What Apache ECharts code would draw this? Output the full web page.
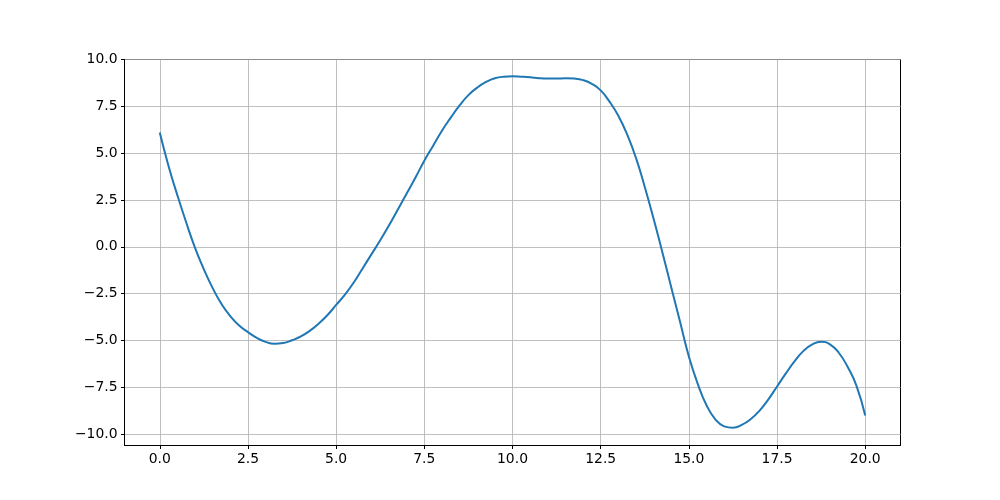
<!DOCTYPE html>
<html>
<head>
<meta charset="utf-8">
<script src="https://cdn.jsdelivr.net/npm/echarts@6/dist/echarts.min.js"></script>
<style>
html,body{margin:0;padding:0;background:#fff;}
#chart{width:1000px;height:500px;}
</style>
</head>
<body>
<div id="chart"></div>
<script>
const xValues = [0,0.25,0.5,0.75,1,1.25,1.5,1.75,2,2.25,2.5,2.75,3,3.25,3.5,3.75,4,4.25,4.5,4.75,5,5.25,5.5,5.75,6,6.25,6.5,6.75,7,7.25,7.5,7.75,8,8.25,8.5,8.75,9,9.25,9.5,9.75,10,10.25,10.5,10.75,11,11.25,11.5,11.75,12,12.25,12.5,12.75,13,13.25,13.5,13.75,14,14.25,14.5,14.75,15,15.25,15.5,15.75,16,16.25,16.5,16.75,17,17.25,17.5,17.75,18,18.25,18.5,18.75,19,19.25,19.5,19.75,20];
const yValues = [6.1,4.3,2.75,1.3,-0.05,-1.2,-2.2,-3.05,-3.7,-4.2,-4.55,-4.85,-5.07,-5.17,-5.13,-4.98,-4.78,-4.48,-4.1,-3.65,-3.1,-2.55,-1.9,-1.15,-0.4,0.35,1.15,2.0,2.85,3.7,4.6,5.4,6.2,6.9,7.55,8.1,8.5,8.8,9.0,9.08,9.1,9.08,9.05,9.0,8.98,8.98,9.0,8.98,8.9,8.7,8.35,7.75,7.0,6.0,4.75,3.2,1.5,-0.3,-2.15,-4.0,-5.85,-7.3,-8.45,-9.2,-9.58,-9.65,-9.5,-9.2,-8.75,-8.15,-7.45,-6.75,-6.1,-5.55,-5.2,-5.06,-5.2,-5.65,-6.4,-7.4,-9.0];
const xTicks = [0,2.5,5,7.5,10,12.5,15,17.5,20];
const yTicks = [-10,-7.5,-5,-2.5,0,2.5,5,7.5,10];

const data = xValues.map((x, i) => [x, yValues[i]]);
const fmt = v => (v < 0 ? '\u2212' : '') + Math.abs(v).toFixed(1);
const font = 'DejaVu Sans';

const chart = echarts.init(document.getElementById('chart'), null, {renderer: 'canvas'});
chart.setOption({
  animation: false,
  backgroundColor: '#fff',
  grid: {left: 124.5, right: 99.5, top: 59.5, bottom: 54.5, show: true, borderColor: '#000', borderWidth: 1, backgroundColor: 'transparent'},
  xAxis: {
    type: 'value', min: -1, max: 21,
    axisLine: {show: true, onZero: false, lineStyle: {color: '#000', width: 1}},
    axisTick: {show: true, length: 3.5, lineStyle: {color: '#000', width: 1}, customValues: xTicks},
    axisLabel: {customValues: xTicks, formatter: fmt, color: '#000', fontSize: 13.9, fontFamily: font, margin: 7},
    splitLine: {show: true, lineStyle: {color: '#b0b0b0', width: 0.8}, customValues: xTicks}
  },
  yAxis: {
    type: 'value', min: -10.6, max: 10,
    axisLine: {show: true, onZero: false, lineStyle: {color: '#000', width: 1}},
    axisTick: {show: true, length: 3.5, lineStyle: {color: '#000', width: 1}, customValues: yTicks},
    axisLabel: {customValues: yTicks, formatter: fmt, color: '#000', fontSize: 13.9, fontFamily: font, margin: 7},
    splitLine: {show: true, lineStyle: {color: '#b0b0b0', width: 0.8}, customValues: yTicks}
  },
  series: [{
    type: 'line', data: data, showSymbol: false, smooth: 0.5,
    lineStyle: {color: '#1f77b4', width: 2}, z: 3
  }]
});
</script>
</body>
</html>
